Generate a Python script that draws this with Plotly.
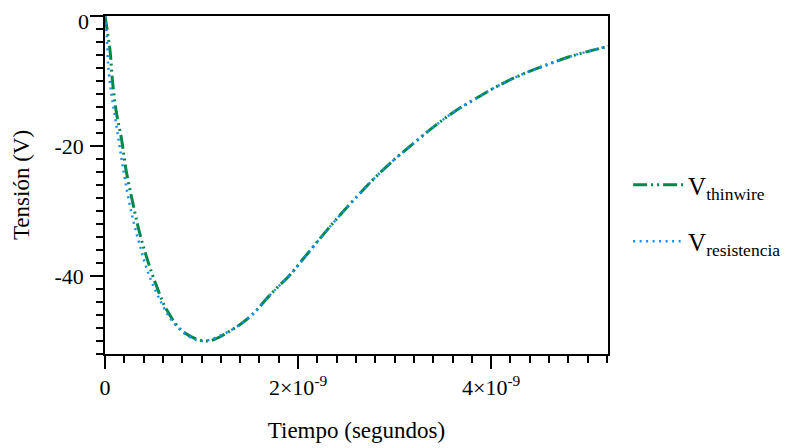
import plotly.graph_objects as go

# Time in nanoseconds, voltage in volts
t_thin_ns = [0.0, 0.052, 0.076, 0.114, 0.173, 0.218, 0.283, 0.352, 0.431, 0.525, 0.639, 0.811,
             1.054, 1.313, 1.52, 1.71, 1.917, 2.073, 2.245, 2.418, 2.608, 2.781, 2.988, 3.195,
             3.40, 3.61, 3.834, 4.076, 4.318, 4.577, 4.836, 5.095, 5.215]
v_thin = [0.0, -5.3, -9.8, -14.5, -19.1, -23.7, -28.4, -33.0, -37.1, -41.2, -45.2, -48.6,
          -50.0, -48.3, -46.0, -42.9, -39.8, -37.0, -33.9, -30.9, -27.8, -25.1, -22.2, -19.6,
          -17.1, -14.8, -12.75, -10.7, -9.0, -7.5, -6.15, -5.1, -4.65]

t_res_ns = [0.0, 0.017, 0.034, 0.07, 0.114, 0.162, 0.207, 0.276, 0.355, 0.449, 0.553, 0.69, 0.88,
            1.02, 1.31, 1.52, 1.71, 1.917, 2.073, 2.245, 2.418, 2.608, 2.781, 2.988, 3.195,
            3.40, 3.61, 3.834, 4.076, 4.318, 4.577, 4.836, 5.095, 5.215]
v_res = [0.0, -2.7, -7.8, -12.4, -16.5, -21.1, -25.2, -30.4, -35.0, -39.6, -43.2, -46.8, -49.4,
         -50.0, -48.3, -46.0, -42.9, -39.8, -37.0, -33.9, -30.9, -27.8, -25.1, -22.2, -19.6,
         -17.1, -14.8, -12.75, -10.7, -9.0, -7.5, -6.15, -5.1, -4.65]

x_tickvals = [0, 2e-9, 4e-9]
x_ticktext = ["0", "2×10<sup>-9</sup>", "4×10<sup>-9</sup>"]
y_tickvals = [0, -20, -40]
y_ticktext = ["0", "-20", "-40"]

names = ["V<sub>thinwire</sub>", "V<sub>resistencia</sub>"]

t_thin = [v * 1e-9 for v in t_thin_ns]
t_res = [v * 1e-9 for v in t_res_ns]

FONT = "Liberation Serif"
GREEN = "#00884A"
BLUE = "#1A8CFF"

fig = go.Figure()
fig.add_trace(go.Scatter(
    x=t_thin, y=v_thin, mode="lines", name=names[0], legendgroup="a",
    line=dict(color=GREEN, width=3, dash="14px,4px,2px,4px,2px,4px", shape="spline", smoothing=1.0),
))
fig.add_trace(go.Scatter(
    x=t_res, y=v_res, mode="lines", name=names[1], legendgroup="b",
    line=dict(color=BLUE, width=2.5, dash="2px,4.5px", shape="spline", smoothing=1.0),
))

axis_common = dict(
    showline=True, linecolor="black", linewidth=1.5, mirror=True,
    showgrid=False, zeroline=False, automargin=False,
    ticks="outside", ticklen=13, tickwidth=1.5, tickcolor="black",
    tickfont=dict(family=FONT, size=22, color="black"),
    ticklabeloverflow="allow",
)

# the top "0" label of the y axis is drawn as an annotation so it stays inside the page
y_labels_on_axis = ["" if v == 0 else txt for v, txt in zip(y_tickvals, y_ticktext)]

fig.update_xaxes(
    range=[0, 5.21e-9], tickmode="array", tickvals=x_tickvals, ticktext=x_ticktext,
    minor=dict(ticks="outside", ticklen=7, tickwidth=1.5, tickcolor="black", dtick=0.2e-9, tick0=0, showgrid=False),
    title=dict(text="Tiempo (segundos)", font=dict(family=FONT, size=23, color="black"), standoff=23),
    ticklabelstandoff=0,
    **axis_common,
)
fig.update_yaxes(
    range=[-52, 0], tickmode="array", tickvals=y_tickvals, ticktext=y_labels_on_axis,
    minor=dict(ticks="outside", ticklen=7, tickwidth=1.5, tickcolor="black", dtick=2, tick0=0, showgrid=False),
    title=dict(text="Tensión (V)", font=dict(family=FONT, size=23, color="black"), standoff=18),
    ticklabelstandoff=2,
    **axis_common,
)

for v, txt in zip(y_tickvals, y_ticktext):
    if v == 0:
        fig.add_annotation(
            x=0, xref="paper", xanchor="right", xshift=-14,
            y=v, yref="y", yanchor="top", yshift=9,
            text=txt, showarrow=False,
            font=dict(family=FONT, size=22, color="black"),
        )

fig.update_layout(
    width=786, height=440,
    margin=dict(l=97, r=186, t=8, b=94, autoexpand=False),
    paper_bgcolor="white", plot_bgcolor="white",
    font=dict(family=FONT, color="black"),
    legend=dict(
        x=1.04, xanchor="left", y=0.417, yanchor="middle",
        font=dict(family=FONT, size=25, color="black"),
        traceorder="grouped", tracegroupgap=21, itemwidth=50,
        bgcolor="rgba(0,0,0,0)",
    ),
)

fig.write_html("out.html")
